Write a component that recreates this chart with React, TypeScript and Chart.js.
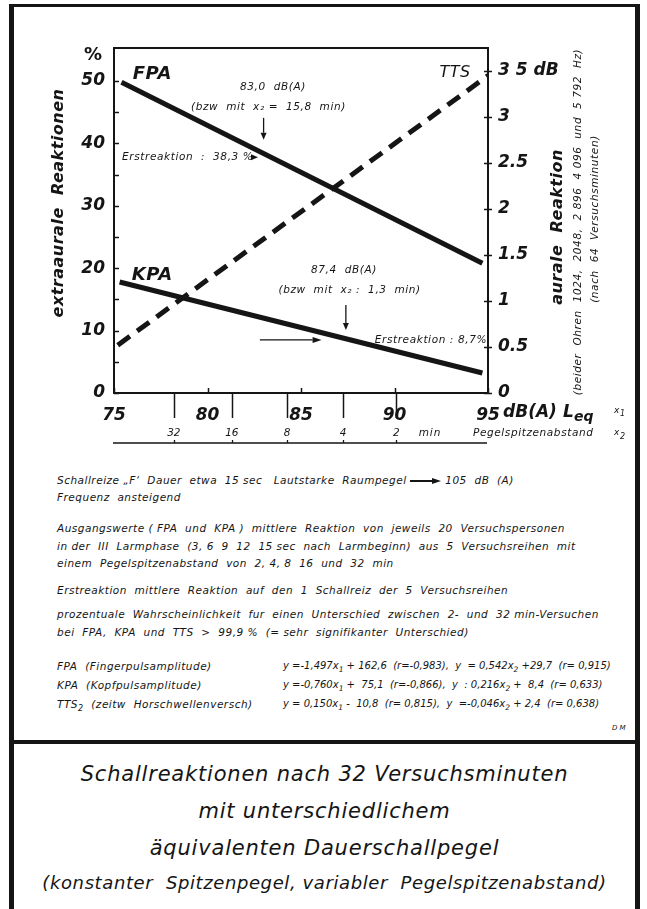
import React, { useEffect, useRef } from 'react';
import { Chart, registerables } from 'chart.js';

Chart.register(...registerables);

const FONT = '"DejaVu Sans", sans-serif';
const INK = '#151515';

// x1 axis: equivalent continuous level Leq in dB(A)
const x1TickValues = [75, 80, 85, 90, 95];
// regression lines, end points
const fpaX = [75.4, 94.7];
const fpaY = [49.8, 20.8];
const kpaX = [75.3, 94.7];
const kpaY = [17.8, 3.2];
const ttsX = [75.2, 95.0];
const ttsY = [0.52, 3.45];
// x2 axis: peak spacing (min), placed at the x1 value it corresponds to
const x2Labels = ['32', '16', '8', '4', '2'];
const x2AtX1 = [78.2, 81.3, 84.25, 87.25, 90.1];
// right axis tick labels (TTS, dB)
const rightTickLabels = ['0', '0.5', '1', '1.5', '2', '2.5', '3', '3 5 dB'];

const noteLines = [
  'Schallreize „F‘  Dauer  etwa  15 sec   Lautstarke  Raumpegel',
  'Frequenz  ansteigend',
  'Ausgangswerte ( FPA  und  KPA )  mittlere  Reaktion  von  jeweils  20  Versuchspersonen',
  'in der  III  Larmphase  (3, 6  9  12  15 sec  nach  Larmbeginn)  aus  5  Versuchsreihen  mit',
  'einem  Pegelspitzenabstand  von  2, 4, 8  16  und  32  min',
  'Erstreaktion  mittlere  Reaktion  auf  den  1  Schallreiz  der  5  Versuchsreihen',
  'prozentuale  Wahrscheinlichkeit  fur  einen  Unterschied  zwischen  2-  und  32 min-Versuchen',
  'bei  FPA,  KPA  und  TTS  >  99,9 %  (= sehr  signifikanter  Unterschied)',
];
const eqNames = ['FPA  (Fingerpulsamplitude)', 'KPA  (Kopfpulsamplitude)', 'TTS'];
const eqText = [
  ['y =-1,497x', '1', ' + 162,6  (r=-0,983),  y  = 0,542x', '2', ' +29,7  (r= 0,915)'],
  ['y =-0,760x', '1', ' +  75,1  (r=-0,866),  y  : 0,216x', '2', ' +  8,4  (r= 0,633)'],
  ['y = 0,150x', '1', ' -  10,8  (r= 0,815),  y  =-0,046x', '2', ' + 2,4  (r= 0,638)'],
];
const titleLines = [
  'Schallreaktionen nach 32 Versuchsminuten',
  'mit unterschiedlichem',
  'äquivalenten Dauerschallpegel',
  '(konstanter  Spitzenpegel, variabler  Pegelspitzenabstand)',
];

function arrow(ctx: CanvasRenderingContext2D, x1: number, y1: number, x2: number, y2: number, head: number, half: number, lw: number) {
  const ang = Math.atan2(y2 - y1, x2 - x1);
  const bx = x2 - Math.cos(ang) * head;
  const by = y2 - Math.sin(ang) * head;
  ctx.lineWidth = lw;
  ctx.beginPath();
  ctx.moveTo(x1, y1);
  ctx.lineTo(bx, by);
  ctx.stroke();
  ctx.beginPath();
  ctx.moveTo(x2, y2);
  ctx.lineTo(bx + Math.sin(ang) * half, by - Math.cos(ang) * half);
  ctx.lineTo(bx - Math.sin(ang) * half, by + Math.cos(ang) * half);
  ctx.closePath();
  ctx.fill();
}

const decoPlugin = {
  id: 'deco',
  afterDraw(chart: any) {
    const { ctx, chartArea: a, scales } = chart;
    const X = (v: number) => scales.x.getPixelForValue(v);
    const YL = (v: number) => scales.y.getPixelForValue(v);
    const YR = (v: number) => scales.y2.getPixelForValue(v);
    ctx.save();
    ctx.strokeStyle = INK;
    ctx.fillStyle = INK;
    ctx.lineCap = 'butt';

    // plot frame
    ctx.lineWidth = 2;
    ctx.strokeRect(a.left, a.top, a.right - a.left, a.bottom - a.top);

    ctx.lineWidth = 1.5;
    // left ticks every 5 %
    for (let v = 0; v <= 50; v += 5) {
      const py = Math.round(YL(v)) + 0.5;
      ctx.beginPath(); ctx.moveTo(a.left, py); ctx.lineTo(a.left + 5, py); ctx.stroke();
    }
    // right ticks every 0.5 dB
    for (let i = 0; i < rightTickLabels.length; i++) {
      const py = Math.round(YR(i * 0.5)) + 0.5;
      ctx.beginPath(); ctx.moveTo(a.right - 4, py); ctx.lineTo(a.right + 4, py); ctx.stroke();
    }
    // x1 inner ticks
    for (const v of x1TickValues) {
      const px = Math.round(X(v)) + 0.5;
      ctx.beginPath(); ctx.moveTo(px, a.bottom); ctx.lineTo(px, a.bottom - 5); ctx.stroke();
    }
    // x2 long ticks below the axis
    for (const v of x2AtX1) {
      const px = Math.round(X(v)) + 0.5;
      ctx.beginPath(); ctx.moveTo(px, a.bottom); ctx.lineTo(px, a.bottom + 25); ctx.stroke();
    }
    // x2 axis line
    const x2y = a.bottom + 50;
    ctx.lineWidth = 1.3;
    ctx.beginPath(); ctx.moveTo(a.left - 1, x2y); ctx.lineTo(a.right - 1, x2y); ctx.stroke();
    for (const v of x2AtX1) {
      const px = Math.round(X(v)) + 0.5;
      ctx.beginPath(); ctx.moveTo(px, x2y); ctx.lineTo(px, x2y - 3); ctx.stroke();
    }

    const txt = (s: string, x: number, y: number, font: string, align: CanvasTextAlign = 'left', ls = '0px') => {
      ctx.font = font;
      (ctx as any).letterSpacing = ls;
      ctx.textAlign = align;
      ctx.textBaseline = 'middle';
      ctx.fillText(s, x, y);
      return ctx.measureText(s).width;
    };
    const small = `italic 10.5px ${FONT}`;
    const big = `italic bold 17px ${FONT}`;

    // x2 labels
    x2Labels.forEach((l, i) => txt(l, X(x2AtX1[i]), a.bottom + 40, small, 'center'));
    txt('min', X(91.9), a.bottom + 40, small, 'center', '1px');
    txt('Pegelspitzenabstand', X(95) - 15, a.bottom + 40, small, 'left', '0.6px');
    txt('x', 614, a.bottom + 40, `italic 9px ${FONT}`);
    txt('2', 620, a.bottom + 44, `italic 8px ${FONT}`);
    // x1 unit
    const lab = a.bottom + 20;
    txt('dB(A)', X(95) + 15, lab, big);
    txt('L', 563, lab, big);
    txt('eq', 574, lab + 4, `italic bold 14px ${FONT}`);
    txt('x', 614, lab - 2, `italic 9px ${FONT}`);
    txt('1', 620, lab + 1, `italic 8px ${FONT}`);

    // axis titles
    txt('%', a.left - 21, a.top + 7, `bold 18px ${FONT}`, 'center');
    ctx.save();
    ctx.translate(59, 203);
    ctx.rotate(-Math.PI / 2);
    txt('extraaurale  Reaktionen', 0, 0, `italic bold 16px ${FONT}`, 'center', '0.5px');
    ctx.restore();
    const rot = (s: string, x: number, y: number, font: string, ls: string) => {
      ctx.save(); ctx.translate(x, y); ctx.rotate(-Math.PI / 2);
      txt(s, 0, 0, font, 'center', ls); ctx.restore();
    };
    rot('aurale  Reaktion', 558, 227, `italic bold 16px ${FONT}`, '0.5px');
    rot('(beider  Ohren  1024,  2048,  2 896  4 096  und  5 792  Hz)', 578, 222, `italic 10.5px ${FONT}`, '0.6px');
    rot('(nach  64  Versuchsminuten)', 595, 219, `italic 10.5px ${FONT}`, '0.6px');

    // series labels
    txt('FPA', X(76.0), YL(51.0), `italic bold 18px ${FONT}`, 'left', '0.5px');
    txt('KPA', X(75.95), YL(18.9), `italic bold 18px ${FONT}`, 'left', '0.5px');
    txt('TTS', X(92.4), YR(3.48), `italic 16px ${FONT}`, 'left', '0.5px');

    // annotations
    txt('83,0  dB(A)', X(83.5), YL(49.0), small, 'center', '0.6px');
    txt('(bzw  mit  x₂ =  15,8  min)', X(83.26), YL(45.8), small, 'center', '0.6px');
    arrow(ctx, X(83.0), YL(44.1), X(83.0), YL(40.6), 7, 3, 1.3);
    const w1 = txt('Erstreaktion  :  38,3 %', X(75.43), YL(37.8), small, 'left', '0.6px');
    arrow(ctx, X(75.43) + w1 + 1, YL(37.8), X(82.7), YL(37.8), 7, 3, 1.3);

    txt('87,4  dB(A)', X(87.3), YL(19.7), small, 'center', '0.6px');
    txt('(bzw  mit  x₂ :  1,3  min)', X(87.6), YL(16.5), small, 'center', '0.6px');
    arrow(ctx, X(87.4), YL(14.1), X(87.4), YL(10.1), 7, 3, 1.3);
    arrow(ctx, X(82.8), YL(8.5), X(86.1), YL(8.5), 9, 3, 1.3);
    txt('Erstreaktion : 8,7%', a.right - 1, YL(8.5), small, 'right', '0.6px');

    ctx.restore();
  },
};

export default function App() {
  const ref = useRef<HTMLCanvasElement | null>(null);

  useEffect(() => {
    if (!ref.current) return;
    const tickFont = { family: FONT, size: 17, style: 'italic' as const, weight: 'bold' as const };
    const line = (xs: number[], ys: number[]) => xs.map((x, i) => ({ x, y: ys[i] }));
    const chart = new Chart(ref.current, {
      type: 'line',
      data: {
        datasets: [
          { label: 'FPA', data: line(fpaX, fpaY), yAxisID: 'y', borderColor: INK, borderWidth: 5, pointRadius: 0, borderCapStyle: 'butt' },
          { label: 'KPA', data: line(kpaX, kpaY), yAxisID: 'y', borderColor: INK, borderWidth: 5, pointRadius: 0, borderCapStyle: 'butt' },
          { label: 'TTS', data: line(ttsX, ttsY), yAxisID: 'y2', borderColor: INK, borderWidth: 5, pointRadius: 0, borderDash: [15, 9], borderCapStyle: 'butt' },
        ],
      },
      options: {
        responsive: false,
        animation: false,
        layout: { padding: { top: 48, left: 0, right: 0, bottom: 0 } },
        plugins: { legend: { display: false }, tooltip: { enabled: false } },
        scales: {
          x: {
            type: 'linear', min: 75, max: 95, position: 'bottom',
            afterFit: (s: any) => { s.height = 67; },
            grid: { display: false, drawTicks: false }, border: { display: false },
            afterBuildTicks: (s: any) => { s.ticks = x1TickValues.map((v) => ({ value: v })); },
            ticks: { padding: 12, font: tickFont, color: INK, maxRotation: 0, autoSkip: false, callback: (v: any) => String(v) },
          },
          y: {
            type: 'linear', min: 0, max: 55.3, position: 'left',
            afterFit: (s: any) => { s.width = 114; },
            grid: { display: false, drawTicks: false }, border: { display: false },
            ticks: { stepSize: 10, includeBounds: false, padding: 9, font: tickFont, color: INK },
          },
          y2: {
            type: 'linear', min: 0, max: 3.75, position: 'right',
            afterFit: (s: any) => { s.width = 159; },
            grid: { display: false, drawTicks: false }, border: { display: false },
            ticks: {
              stepSize: 0.5, includeBounds: false, padding: 10, font: tickFont, color: INK,
              callback: (v: any) => rightTickLabels[Math.round(Number(v) / 0.5)] ?? '',
            },
          },
        },
      },
      plugins: [decoPlugin],
    } as any);
    return () => chart.destroy();
  }, []);

  const note = (top: number): React.CSSProperties => ({
    position: 'absolute', left: 57, top: top - 7, fontFamily: FONT, fontStyle: 'italic', fontSize: 10.5,
    letterSpacing: '0.5px', whiteSpace: 'pre', color: INK, lineHeight: '14px',
  });
  const noteTops = [480, 497, 528, 546, 563, 590, 614, 632];
  const eqTops = [666, 685, 704];
  const titleTops = [774, 811, 848, 883];
  const bar = (l: number, t: number, w: number, h: number): React.CSSProperties => ({
    position: 'absolute', left: l, top: t, width: w, height: h, background: INK,
  });

  return (
    <div style={{ position: 'absolute', left: 0, top: 0, width: 647, height: 909, background: '#fff', overflow: 'hidden' }}>
      <canvas ref={ref} width={647} height={460} style={{ position: 'absolute', left: 0, top: 0, width: 647, height: 460 }} />
      <div style={bar(9, 4, 631, 3)} />
      <div style={bar(9, 4, 5, 905)} />
      <div style={bar(635, 4, 5, 905)} />
      <div style={bar(9, 740, 631, 4)} />
      {noteLines.map((s, i) => (
        <div key={i} style={note(noteTops[i])}>
          {s}
          {i === 0 ? (
            <span>
              {' '}
              <span style={{ display: 'inline-block', width: 22, height: 2, background: INK, verticalAlign: 'middle' }} />
              <span style={{ display: 'inline-block', width: 0, height: 0, borderTop: '3px solid transparent', borderBottom: '3px solid transparent', borderLeft: `9px solid ${INK}`, verticalAlign: 'middle' }} />
              {' 105  dB  (A)'}
            </span>
          ) : null}
        </div>
      ))}
      {eqNames.map((n, i) => (
        <React.Fragment key={'e' + i}>
          <div style={note(eqTops[i])}>
            {n}
            {i === 2 ? (
              <>
                <sub style={{ fontSize: 8 }}>2</sub>
                {'  (zeitw  Horschwellenversch)'}
              </>
            ) : null}
          </div>
          <div style={{ ...note(eqTops[i]), left: 283, fontSize: 10, letterSpacing: '0px' }}>
            {eqText[i][0]}
            <sub style={{ fontSize: 7.5 }}>{eqText[i][1]}</sub>
            {eqText[i][2]}
            <sub style={{ fontSize: 7.5 }}>{eqText[i][3]}</sub>
            {eqText[i][4]}
          </div>
        </React.Fragment>
      ))}
      <div style={{ position: 'absolute', left: 612, top: 724, fontFamily: FONT, fontStyle: 'italic', fontSize: 7, color: INK }}>D M</div>
      {titleLines.map((s, i) => (
        <div
          key={'t' + i}
          style={{
            position: 'absolute', left: 14, width: 621, top: titleTops[i] - 14, textAlign: 'center',
            fontFamily: FONT, fontStyle: 'italic', fontSize: i === 3 ? 18 : 21, lineHeight: '28px',
            letterSpacing: i === 3 ? '0.6px' : '0.8px', whiteSpace: 'pre', color: INK,
          }}
        >
          {s}
        </div>
      ))}
    </div>
  );
}
